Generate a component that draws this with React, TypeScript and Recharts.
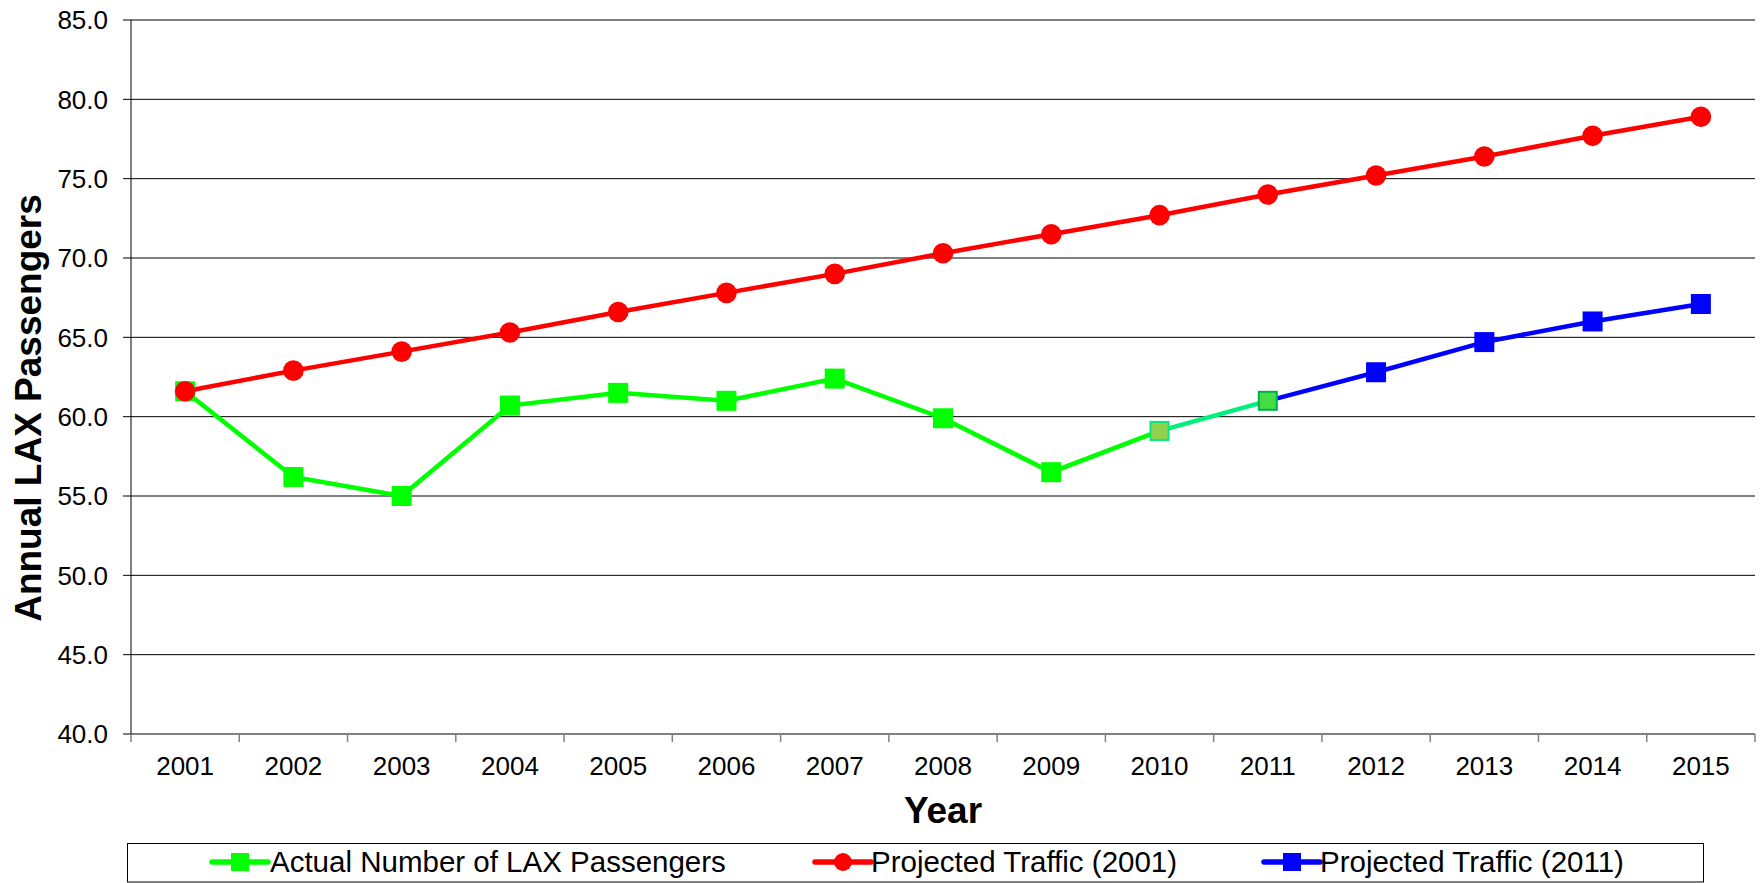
import React from 'react';
import { LineChart, Line, XAxis, YAxis, CartesianGrid } from 'recharts';

const years = [2001, 2002, 2003, 2004, 2005, 2006, 2007, 2008, 2009, 2010, 2011, 2012, 2013, 2014, 2015];
const actualPassengers = [61.6, 56.2, 55.0, 60.7, 61.5, 61.0, 62.4, 59.9, 56.5, 59.1, 61.0];
const projected2001 = [61.6, 62.9, 64.1, 65.3, 66.6, 67.8, 69.0, 70.3, 71.5, 72.7, 74.0, 75.2, 76.4, 77.7, 78.9];
const projected2011Years = [2011, 2012, 2013, 2014, 2015];
const projected2011 = [61.0, 62.8, 64.7, 66.0, 67.1];
const yTicks = [40, 45, 50, 55, 60, 65, 70, 75, 80, 85];
const legendLabels = ['Actual Number of LAX Passengers', 'Projected Traffic (2001)', 'Projected Traffic (2011)'];
const lateSplitYear = 2010;

const FONT = '"Liberation Sans", Arial, Helvetica, sans-serif';

const rows = years.map((year, i) => {
  const a = i < actualPassengers.length ? actualPassengers[i] : undefined;
  const j = projected2011Years.indexOf(year);
  return {
    year,
    actual: year <= lateSplitYear ? a : undefined,
    actualLate: year >= lateSplitYear ? a : undefined,
    p2001: projected2001[i],
    p2011: j >= 0 ? projected2011[j] : undefined,
  };
});

const xTicks: number[] = [];
years.forEach((y) => {
  xTicks.push(y - 0.5);
  xTicks.push(y);
});
xTicks.push(years[years.length - 1] + 0.5);

const XTick = (props: any) => {
  const { x, y, payload } = props;
  const v = payload.value;
  if (Math.abs(v - Math.round(v)) > 0.01) {
    return <line x1={x} y1={y} x2={x} y2={y + 8} stroke="#808080" strokeWidth={1.5} />;
  }
  return (
    <text x={x} y={y + 41} textAnchor="middle" fontSize={26} fill="#000" fontFamily={FONT}>
      {String(Math.round(v))}
    </text>
  );
};

const makeSquare = (fill: string, skip: number[]) => (props: any) => {
  const { cx, cy, index, payload } = props;
  if (cx == null || cy == null || payload == null || skip.includes(payload.year)) {
    return <g key={`s-${fill}-${index}`} />;
  }
  return <rect key={`s-${fill}-${index}`} x={cx - 10} y={cy - 10} width={20} height={20} fill={fill} />;
};

const lateDot = (props: any) => {
  const { cx, cy, index, payload } = props;
  if (cx == null || cy == null || payload == null) return <g key={`l-${index}`} />;
  const first = payload.year === lateSplitYear;
  return (
    <rect
      key={`l-${index}`}
      x={cx - 9}
      y={cy - 9}
      width={18}
      height={18}
      fill={first ? '#92d050' : '#44dd44'}
      stroke={first ? '#00ee77' : '#00b050'}
      strokeWidth={2}
    />
  );
};

const circleDot = (props: any) => {
  const { cx, cy, index } = props;
  if (cx == null || cy == null) return <g key={`c-${index}`} />;
  return <circle key={`c-${index}`} cx={cx} cy={cy} r={10.3} fill="#ff0000" />;
};

const LegendIcon = ({ x, color, shape }: { x: number; color: string; shape: 'square' | 'circle' }) => (
  <g>
    <line x1={x} y1={862} x2={x + 56} y2={862} stroke={color} strokeWidth={5.5} strokeLinecap="round" />
    {shape === 'square' ? (
      <rect x={x + 19} y={853} width={18} height={18} fill={color} />
    ) : (
      <circle cx={x + 28} cy={862} r={9} fill={color} />
    )}
  </g>
);

export default function App() {
  return (
    <div style={{ position: 'absolute', left: 0, top: 0, width: 1761, height: 883, background: '#fff', fontFamily: FONT }}>
      <LineChart width={1761} height={883} data={rows} margin={{ top: 20, right: 6, bottom: 89, left: 0 }}>
        <CartesianGrid vertical={false} stroke="#000" strokeWidth={1} />
        <XAxis
          dataKey="year"
          type="number"
          domain={[2000.5, 2015.5]}
          ticks={xTicks}
          interval={0}
          tickLine={false}
          tickSize={0}
          tickMargin={0}
          tick={<XTick />}
          axisLine={{ stroke: '#808080', strokeWidth: 2 }}
          height={60}
          allowDecimals
          label={() => (
            <text x={943} y={823} textAnchor="middle" fontSize={37} fontWeight="bold" fill="#000" fontFamily={FONT}>
              Year
            </text>
          )}
        />
        <YAxis
          type="number"
          domain={[40, 85]}
          ticks={yTicks}
          interval={0}
          width={131}
          tickSize={8}
          tickMargin={15}
          tickLine={{ stroke: '#000' }}
          axisLine={{ stroke: '#000' }}
          tick={{ fontSize: 26, fill: '#000', fontFamily: FONT }}
          tickFormatter={(v: number) => v.toFixed(1)}
          label={() => (
            <text
              x={41}
              y={408}
              transform="rotate(-90 41 408)"
              textAnchor="middle"
              fontSize={37}
              fontWeight="bold"
              fill="#000"
              fontFamily={FONT}
            >
              Annual LAX Passengers
            </text>
          )}
        />
        <Line
          dataKey="p2011"
          stroke="#0000ff"
          strokeWidth={4.5}
          type="linear"
          dot={makeSquare('#0000ff', [2011])}
          activeDot={false}
          isAnimationActive={false}
        />
        <Line
          dataKey="actual"
          stroke="#00ff00"
          strokeWidth={4.5}
          type="linear"
          dot={makeSquare('#00ff00', [lateSplitYear])}
          activeDot={false}
          isAnimationActive={false}
        />
        <Line
          dataKey="actualLate"
          stroke="#00f07a"
          strokeWidth={4.5}
          type="linear"
          dot={lateDot}
          activeDot={false}
          isAnimationActive={false}
        />
        <Line
          dataKey="p2001"
          stroke="#ff0000"
          strokeWidth={4.5}
          type="linear"
          dot={circleDot}
          activeDot={false}
          isAnimationActive={false}
        />
      </LineChart>
      <svg width={1761} height={883} style={{ position: 'absolute', left: 0, top: 0, pointerEvents: 'none' }}>
        <rect x={127.5} y={843.5} width={1576} height={38.5} fill="none" stroke="#000" strokeWidth={1} />
        <LegendIcon x={212} color="#00ff00" shape="square" />
        <text x={270} y={872} fontSize={29.5} fill="#000" fontFamily={FONT}>{legendLabels[0]}</text>
        <LegendIcon x={815} color="#ff0000" shape="circle" />
        <text x={871} y={872} fontSize={29.5} fill="#000" fontFamily={FONT}>{legendLabels[1]}</text>
        <LegendIcon x={1264} color="#0000ff" shape="square" />
        <text x={1320} y={872} fontSize={29.5} fill="#000" fontFamily={FONT}>{legendLabels[2]}</text>
      </svg>
    </div>
  );
}
